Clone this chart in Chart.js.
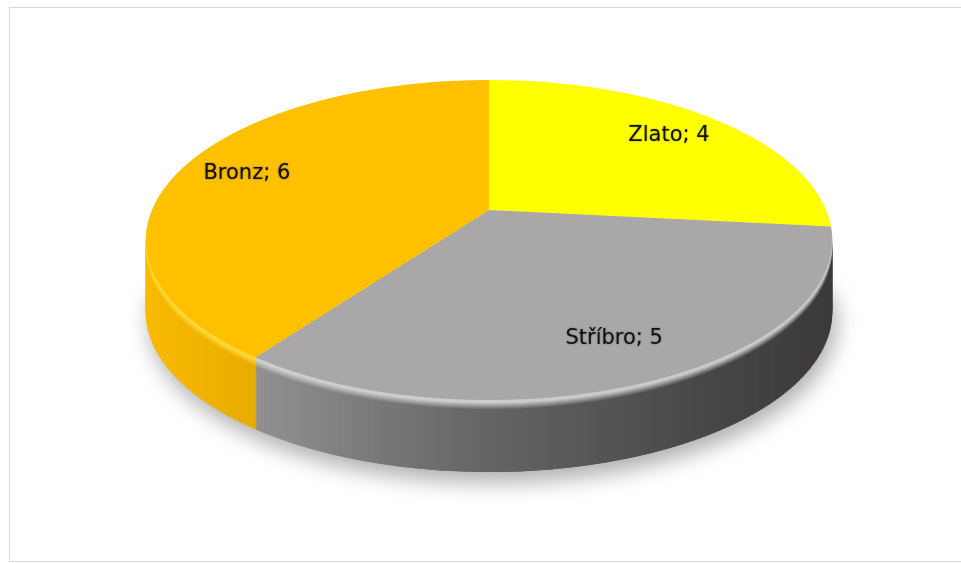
<!DOCTYPE html>
<html>
<head>
<meta charset="utf-8">
<script src="https://cdn.jsdelivr.net/npm/chart.js@4.4.1/dist/chart.umd.min.js"></script>
<style>
  html, body { margin: 0; padding: 0; background: #ffffff; }
  canvas { display: block; }
</style>
</head>
<body>
<canvas id="c" width="961" height="563"></canvas>
<script>
// ---- data ----
const CATEGORIES = ['Zlato', 'Stříbro', 'Bronz'];
const VALUES = [4, 5, 6];

// ---- styles ----
const TOP_COLORS = ['#ffff00', '#a9a7a8', '#ffc000'];
const HIGHLIGHT_COLORS = ['#ffff70', '#d2d0d1', '#ffd83a'];
const SIDE_STOPS = [
  [[0.45, '#c8c400'], [1.0, '#8a8700']],
  [[0.15, '#949293'], [0.48, '#686566'], [0.80, '#4a4849'], [1.0, '#3c3a3b']],
  [[0.0, '#f8bb00'], [0.2, '#e4a800']]
];
// perspective view of the disc (screen space)
const VIEW = { cx: 489, cy: 210, A: 337, B: 154.4, beta: 0.1875, depth: 72, bevel: 10, strip: 2, labelFrac: 0.79 };

function hexToRgb(h) {
  h = h.replace('#', '');
  return [parseInt(h.substr(0, 2), 16), parseInt(h.substr(2, 2), 16), parseInt(h.substr(4, 2), 16)];
}
function mix(a, b, t) {
  const A = hexToRgb(a), B = hexToRgb(b);
  const c = A.map((v, i) => Math.round(v + (B[i] - v) * t));
  return 'rgb(' + c.join(',') + ')';
}

// screen <-> disc coordinates (v: -1 back, +1 front)
function yOfV(v) { return VIEW.cy + VIEW.B * v / (1 - VIEW.beta * v); }
function vOfY(y) { const d = y - VIEW.cy; return d / (VIEW.B + VIEW.beta * d); }
function project(u, v) {
  const w = 1 - VIEW.beta * v;
  return [VIEW.cx + VIEW.A * u / w, VIEW.cy + VIEW.B * v / w];
}

// affine approximation of the perspective map for one horizontal strip
function stripT(arc, y0, y1) {
  const R = arc.outerRadius;
  const v0 = vOfY(y0), v1 = vOfY(y1), vm = vOfY((y0 + y1) / 2);
  const sx = VIEW.A / ((1 - VIEW.beta * vm) * R);
  const sy = (y1 - y0) / ((v1 - v0) * R);
  return { sx, sy, e: VIEW.cx - sx * arc.x, f: y0 - sy * (arc.y + v0 * R) };
}

function drawArcWith(ctx, arc, fill) {
  const el = {
    x: arc.x, y: arc.y,
    startAngle: arc.startAngle, endAngle: arc.endAngle,
    innerRadius: arc.innerRadius, outerRadius: arc.outerRadius,
    circumference: arc.circumference,
    options: Object.assign({}, arc.options, { backgroundColor: fill, borderWidth: 0, offset: 0, spacing: 0 })
  };
  Chart.ArcElement.prototype.draw.call(el, ctx);
}

function drawStrips(ctx, arcs, yStart, yEnd, W, fillFn) {
  const S = VIEW.strip;
  for (let y = yStart; y < yEnd; y += S) {
    const t = stripT(arcs[0], y, y + S);
    ctx.save();
    ctx.setTransform(1, 0, 0, 1, 0, 0);
    ctx.beginPath();
    ctx.rect(0, y, W, S);
    ctx.clip();
    ctx.setTransform(t.sx, 0, 0, t.sy, t.e, t.f);
    arcs.forEach((a, i) => drawArcWith(ctx, a, fillFn(ctx, t, i, a)));
    ctx.restore();
  }
}

function sideFillFactory(m) {
  return function (ctx, t, i) {
    const x0 = VIEW.cx - VIEW.A * 1.02, x1 = VIEW.cx + VIEW.A * 1.02;
    const g = ctx.createLinearGradient((x0 - t.e) / t.sx, 0, (x1 - t.e) / t.sx, 0);
    SIDE_STOPS[i].forEach(s => g.addColorStop(s[0], mix(s[1], HIGHLIGHT_COLORS[i], m)));
    return g;
  };
}

function bevelMix(k) {
  if (k > VIEW.bevel) return 0;
  if (k <= 3) return 0.95;
  return +(0.95 * (1 - (k - 3) / (VIEW.bevel - 3))).toFixed(3);
}

const pie3d = {
  id: 'pie3d',
  beforeDraw(chart) {
    const ctx = chart.ctx;
    ctx.save();
    ctx.fillStyle = '#ffffff';
    ctx.fillRect(0, 0, chart.width, chart.height);
    ctx.strokeStyle = '#d9d9d9';
    ctx.lineWidth = 1;
    ctx.strokeRect(9.5, 7.5, chart.width, chart.height - 9);
    ctx.restore();
  },
  beforeDatasetsDraw(chart) {
    const ctx = chart.ctx;
    const arcs = chart.getDatasetMeta(0).data;
    const W = chart.width, H = chart.height;
    const yTop = Math.floor(yOfV(-1)) - 2;
    const yBot = Math.ceil(yOfV(1)) + 2;

    // side layers rendered once per colour mix on offscreen canvases
    const cache = {};
    function sideLayer(m) {
      if (cache[m]) return cache[m];
      const off = document.createElement('canvas');
      off.width = W; off.height = H;
      const octx = off.getContext('2d');
      drawStrips(octx, arcs, VIEW.cy, yBot, W, sideFillFactory(m));
      cache[m] = off;
      return off;
    }

    // soft shadow under the disc
    ctx.save();
    ctx.setTransform(1, 0, 0, 1, 0, 0);
    ctx.shadowColor = 'rgba(0,0,0,0.32)';
    ctx.shadowBlur = 22;
    ctx.shadowOffsetX = 4;
    ctx.shadowOffsetY = 10;
    ctx.drawImage(sideLayer(0), 0, VIEW.depth);
    ctx.restore();

    // extruded side
    ctx.save();
    ctx.setTransform(1, 0, 0, 1, 0, 0);
    for (let k = VIEW.depth; k >= 1; k--) {
      ctx.drawImage(sideLayer(bevelMix(k)), 0, k);
    }
    ctx.restore();

    // top face
    drawStrips(ctx, arcs, yTop, yBot, W, (c, t, i, a) => a.options.backgroundColor);

    // data labels
    ctx.save();
    ctx.setTransform(1, 0, 0, 1, 0, 0);
    ctx.font = '21px "DejaVu Sans", sans-serif';
    ctx.textAlign = 'center';
    ctx.textBaseline = 'middle';
    ctx.fillStyle = '#111111';
    ctx.shadowColor = 'rgba(0,0,0,0.45)';
    ctx.shadowBlur = 2;
    arcs.forEach((a, i) => {
      const mid = (a.startAngle + a.endAngle) / 2;
      const p = project(Math.cos(mid) * VIEW.labelFrac, Math.sin(mid) * VIEW.labelFrac);
      ctx.fillText(chart.data.labels[i] + '; ' + chart.data.datasets[0].data[i], p[0], p[1]);
    });
    ctx.restore();
    return false;
  }
};

new Chart(document.getElementById('c'), {
  type: 'pie',
  data: {
    labels: CATEGORIES,
    datasets: [{
      data: VALUES,
      backgroundColor: TOP_COLORS,
      borderWidth: 0
    }]
  },
  options: {
    responsive: false,
    animation: false,
    devicePixelRatio: 1,
    plugins: {
      legend: { display: false },
      tooltip: { enabled: false }
    }
  },
  plugins: [pie3d]
});
</script>
</body>
</html>
